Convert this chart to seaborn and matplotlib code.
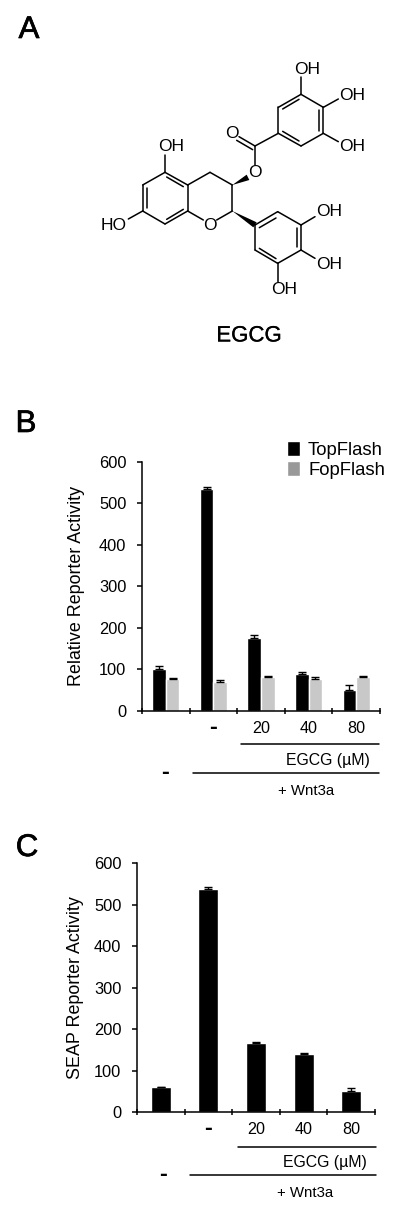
import matplotlib
matplotlib.use('Agg')
import matplotlib.pyplot as plt
import matplotlib.patheffects as pe
from matplotlib.patches import Patch, Polygon
from matplotlib.transforms import ScaledTranslation
import seaborn as sns
import numpy as np
import pandas as pd

# values
groups = ['Control', 'Wnt3a', 'EGCG 20', 'EGCG 40', 'EGCG 80']
dose_labels = ['', '-', '20', '40', '80']
y_ticks = [0, 100, 200, 300, 400, 500, 600]

top_flash = [100, 535, 175, 90, 50]
top_flash_err = [8, 3, 8, 5, 12]
fop_flash = [77, 70, 82, 78, 82]
fop_flash_err = [2, 4, 2, 4, 2]
seap = [60, 537, 167, 141, 51]
seap_err = [1, 6, 3, 2, 7]

W, H = 400, 1216

sns.set_theme(style='ticks')
plt.rcParams['font.family'] = ['Liberation Sans', 'DejaVu Sans']
plt.rcParams['text.color'] = 'black'
plt.rcParams['axes.labelcolor'] = 'black'
plt.rcParams['xtick.color'] = 'black'
plt.rcParams['ytick.color'] = 'black'

fig = plt.figure(figsize=(W / 100, H / 100), dpi=100, facecolor='white')


def make_axes(x0, x1, y_top, y_bottom):
    # pixel box to figure fraction
    return fig.add_axes([x0 / W, 1 - y_bottom / H, (x1 - x0) / W, (y_bottom - y_top) / H])


def style_axes(ax, ylabel, label_x):
    ax.set_xlim(-0.5, 4.5)
    ax.set_ylim(0, 600)
    ax.set_yticks(y_ticks)
    ax.set_xticks(range(5))
    ax.set_xticklabels(dose_labels, fontsize=11.6)
    ax.set_xticks(np.arange(-0.5, 5, 1), minor=True)
    ax.tick_params(axis='x', which='major', length=0, pad=7)
    ax.tick_params(axis='x', which='minor', length=5, width=1.1, direction='inout')
    ax.tick_params(axis='y', length=3.3, width=1.1, pad=8, labelsize=11.8)
    # the dash is a big bold hyphen, lifted to sit level with the numbers
    dash = ax.get_xticklabels()[1]
    dash.set_fontweight('bold')
    dash.set_fontsize(17)
    dash.set_transform(dash.get_transform() + ScaledTranslation(0, 3.6 / 72, fig.dpi_scale_trans))
    ax.set_xlabel('')
    ax.set_ylabel(ylabel, fontsize=12.9)
    ax.yaxis.set_label_coords(label_x, 0.5)
    sns.despine(ax=ax)
    for side in ['left', 'bottom']:
        ax.spines[side].set_linewidth(1.1)
        ax.spines[side].set_color('black')
    ax.patch.set_alpha(0)


def add_errors(ax, errs, capsize):
    # upper error bars on top of the bars seaborn drew
    for cont, err in zip(ax.containers, errs):
        xs = [b.get_x() + b.get_width() / 2 for b in cont]
        hs = [b.get_height() for b in cont]
        ax.errorbar(xs, hs, yerr=[np.zeros(len(err)), err], fmt='none', ecolor='black',
                    elinewidth=1, capsize=capsize, capthick=1)


# panel B
df_b = pd.DataFrame({
    'group': groups * 2,
    'value': top_flash + fop_flash,
    'reporter': ['TopFlash'] * 5 + ['FopFlash'] * 5,
})
ax_b = make_axes(142, 380, 461.7, 711)
sns.barplot(data=df_b, x='group', y='value', hue='reporter', order=groups,
            hue_order=['TopFlash', 'FopFlash'], palette=['black', '#c8c8c8'],
            width=0.57, gap=0, saturation=1, errorbar=None, legend=False, ax=ax_b)
add_errors(ax_b, [top_flash_err, fop_flash_err], 3.2)
style_axes(ax_b, 'Relative Reporter Activity', -0.238)
handles = [Patch(facecolor='black', label='TopFlash'), Patch(facecolor='#999999', label='FopFlash')]
ax_b.legend(handles=handles, loc='upper right', bbox_to_anchor=(385 / W, 1 - 441 / H),
            bbox_transform=fig.transFigure, frameon=False, fontsize=13.3, handlelength=0.72,
            handleheight=0.85, handletextpad=0.45, labelspacing=0.12, borderpad=0, borderaxespad=0)

# panel C
df_c = pd.DataFrame({'group': groups, 'value': seap})
ax_c = make_axes(137, 375, 863.3, 1112.3)
sns.barplot(data=df_c, x='group', y='value', order=groups, color='black',
            width=0.42, saturation=1, errorbar=None, ax=ax_c)
add_errors(ax_c, [seap_err], 3.2)
style_axes(ax_c, 'SEAP Reporter Activity', -0.224)

# overlay in pixels for the drawing and the notes, y pointing down
over = fig.add_axes([0, 0, 1, 1])
over.set_xlim(0, W)
over.set_ylim(H, 0)
over.axis('off')
over.patch.set_alpha(0)


def note(x, y, s, size=11.4, weight='normal', thick=0):
    t = over.text(x, y, s, fontsize=size, fontweight=weight, ha='center', va='center')
    if thick:
        t.set_path_effects([pe.withStroke(linewidth=thick, foreground='black')])


note(29, 30, 'A', 22.5, thick=0.5)
note(26, 424, 'B', 22.5, thick=0.5)
note(27, 848, 'C', 22.5, thick=0.5)
note(249, 336, 'EGCG', 16, thick=0.12)

for line_x0, line_x1, line_y in [(241, 379, 744), (193, 379, 773), (238, 376, 1147), (190, 376, 1175)]:
    over.plot([line_x0, line_x1], [line_y, line_y], color='black', lw=1.1)
note(328, 760, 'EGCG (µM)')
note(306, 791, '+ Wnt3a', 10.8)
note(165, 772, '-', 17, 'bold')
note(325, 1162, 'EGCG (µM)')
note(305, 1193, '+ Wnt3a', 10.8)
note(163, 1175, '-', 17, 'bold')

# EGCG structure, zoomed crop coordinates (3x)
bonds = [
    # gallate ring
    (903, 283, 970, 322), (970, 322, 970, 400), (970, 400, 903, 438),
    (903, 438, 835, 400), (835, 400, 835, 322), (835, 322, 903, 283),
    (897, 298, 848, 327), (957, 330, 957, 392), (897, 423, 848, 394),
    (903, 283, 903, 232), (970, 322, 1015, 297), (970, 400, 1015, 425),
    # ester
    (835, 400, 765, 438), (765, 438, 765, 495), (765, 438, 717, 410), (758, 449, 710, 421),
    # chroman
    (563, 555, 630, 517), (630, 517, 697, 555), (697, 555, 697, 633),
    (697, 633, 650, 660), (610, 660, 563, 633), (563, 633, 563, 555),
    # A ring
    (563, 555, 495, 517), (495, 517, 428, 555), (428, 555, 428, 633),
    (428, 633, 495, 672), (495, 672, 563, 633),
    (500, 531, 550, 560), (441, 563, 441, 625), (500, 658, 550, 628),
    (495, 517, 495, 465), (428, 633, 385, 657),
    # B ring
    (765, 675, 833, 635), (833, 635, 903, 675), (903, 675, 903, 750),
    (903, 750, 833, 790), (833, 790, 765, 750), (765, 750, 765, 675),
    (778, 683, 828, 654), (890, 683, 890, 742), (828, 776, 778, 745),
    (903, 675, 945, 650), (903, 750, 945, 775), (833, 790, 833, 845),
]
for x0, y0, x1, y1 in bonds:
    over.plot([x0 / 3, x1 / 3], [y0 / 3, y1 / 3], color='black', lw=1.1, solid_capstyle='round')

wedges = [
    [(697, 555), (740, 524), (748, 540)],
    [(697, 633), (770, 667), (760, 682)],
]
for w in wedges:
    over.add_patch(Polygon([(x / 3, y / 3) for x, y in w], closed=True, color='black', lw=0))

atoms = [
    (920, 207, 'OH'), (1056, 285, 'OH'), (1056, 440, 'OH'), (697, 402, 'O'), (765, 518, 'O'),
    (513, 440, 'OH'), (340, 675, 'HO'), (630, 675, 'O'), (987, 636, 'OH'), (987, 793, 'OH'),
    (852, 870, 'OH'),
]
for x, y, s in atoms:
    note(x / 3, y / 3, s, 12.5)

fig.savefig('out.png', dpi=100)
